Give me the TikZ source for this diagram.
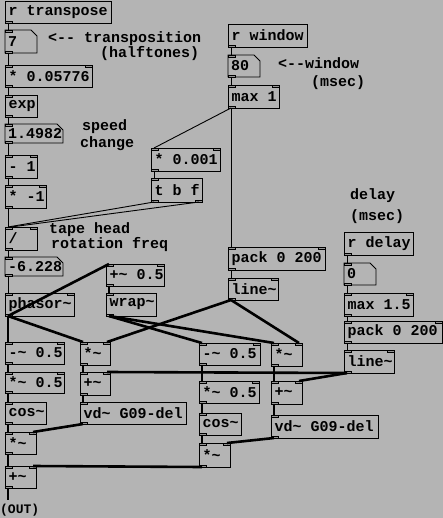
\documentclass[tikz,border=0pt]{standalone}
\usepackage{fontspec}
\setmainfont{Liberation Mono}
\definecolor{bg}{RGB}{180,180,180}
\definecolor{mark}{RGB}{150,150,150}
\newcommand{\pdfnt}{\bfseries\fontsize{15}{15}\selectfont}
\tikzset{
  box/.style={draw=black, line width=0.8pt, anchor=north west, inner sep=0pt, outer sep=0pt},
  nbox/.style={draw=none, anchor=north west, inner sep=0pt, outer sep=0pt},
  lbl/.style={font=\pdfnt, inner sep=0pt, anchor=west},
  cmt/.style={font=\pdfnt, inner sep=0pt, anchor=west},
  ctl/.style={line width=0.9pt, black},
  sig/.style={line width=2.6pt, black},
  iomark/.style={draw=black, line width=0.5pt, fill=mark}
}
% name x y w h text
\newcommand{\pdobj}[6]{%
  \node[box, minimum width=#4pt, minimum height=#5pt] (#1) at (#2,#3) {};
  \node[lbl] at ([xshift=3.5pt]#1.west) {#6};
  \draw[iomark] (#1.north west) rectangle ++(7,2);
  \draw[iomark] (#1.south west) rectangle ++(7,-2);
}
\newcommand{\pdrecv}[6]{%
  \node[box, minimum width=#4pt, minimum height=#5pt] (#1) at (#2,#3) {};
  \node[lbl] at ([xshift=3.5pt]#1.west) {#6};
  \draw[iomark] (#1.south west) rectangle ++(7,-2);
}
\newcommand{\pdnum}[6]{%
  \node[nbox, minimum width=#4pt, minimum height=#5pt] (#1) at (#2,#3) {};
  \draw[line width=0.8pt] (#1.north west) -- ([xshift=-6pt]#1.north east) -- ([yshift=-6pt]#1.north east) -- (#1.south east) -- (#1.south west) -- cycle;
  \node[lbl] at ([xshift=3pt]#1.west) {#6};
  \draw[iomark] (#1.north west) rectangle ++(7,2);
  \draw[iomark] (#1.south west) rectangle ++(7,-2);
}
\newcommand{\rin}[1]{\draw[iomark] (#1.north east) rectangle ++(-7,2);}
\newcommand{\rout}[1]{\draw[iomark] (#1.south east) rectangle ++(-7,-2);}
% connections: style, from, to
\newcommand{\conL}[3]{\draw[#1] ([xshift=3pt]#2.south west) -- ([xshift=3pt]#3.north west);}
\newcommand{\conR}[3]{\draw[#1] ([xshift=3pt]#2.south west) -- ([xshift=-3pt]#3.north east);}
\begin{document}
\begin{tikzpicture}[x=1pt,y=-1pt]
\fill[bg] (0,0) rectangle (443,518);
\useasboundingbox (0,0) rectangle (443,518);

% ---------- left control column ----------
\pdrecv{rtr}{5}{1}{106}{22}{r transpose}
\pdnum{nsev}{5}{30}{32}{23}{7}
\pdobj{mulA1}{5}{65}{87}{22}{* 0.05776}\rin{mulA1}
\pdobj{expo}{5}{95}{32}{22}{exp}
\pdnum{nspd}{5}{124}{58}{19}{1.4982}
\pdobj{subone}{5}{155}{32}{23}{- 1}\rin{subone}
\pdobj{mulneg}{5}{185}{41}{23}{* -1}\rin{mulneg}
\pdobj{divi}{5}{227}{32}{23}{/}\rin{divi}
\pdnum{nfreq}{5}{257}{58}{19}{-6.228}
\pdobj{phas}{5}{293}{69}{23}{phasor\char`~}\rin{phas}

% ---------- window ----------
\pdrecv{rwin}{228}{24}{79}{23}{r window}
\pdnum{neighty}{228}{55}{32}{22}{80}
\pdobj{maxone}{228}{85}{51}{23}{max 1}\rin{maxone}
\pdobj{mulms}{151}{148}{69}{23}{* 0.001}\rin{mulms}
\pdobj{tbf}{151}{178}{51}{24}{t b f}\rout{tbf}
\pdobj{packA}{228}{247}{97}{23}{pack 0 200}\rin{packA}
\pdobj{lineA}{228}{278}{50}{22}{line\char`~}\rin{lineA}

% ---------- delay ----------
\pdrecv{rdel}{344}{232}{69}{23}{r delay}
\pdnum{nzero}{344}{263}{32}{22}{0}
\pdobj{maxdel}{344}{293}{69}{23}{max 1.5}\rin{maxdel}
\pdobj{packB}{344}{321}{98}{22}{pack 0 200}\rin{packB}
\pdobj{lineB}{344}{350}{50}{23}{line\char`~}\rin{lineB}

% ---------- second phase ----------
\pdobj{addhalf}{106}{264}{58}{22}{+\char`~{} 0.5}\rin{addhalf}
\pdobj{wrp}{106}{293}{50}{23}{wrap\char`~}

% ---------- left signal chain ----------
\pdobj{subA}{5}{342}{59}{22}{-\char`~{} 0.5}\rin{subA}
\pdobj{mulA}{80}{342}{30}{23}{*\char`~}\rin{mulA}
\pdobj{halfA}{5}{372}{59}{21}{*\char`~{} 0.5}\rin{halfA}
\pdobj{addA}{80}{372}{30}{23}{+\char`~}\rin{addA}
\pdobj{cosA}{5}{402}{41}{22}{cos\char`~}
\pdobj{vdA}{80}{402}{106}{22}{vd\char`~{} G09-del}
\pdobj{winA}{5}{432}{31}{22}{*\char`~}\rin{winA}
\pdobj{sumout}{5}{466}{31}{22}{+\char`~}\rin{sumout}

% ---------- right signal chain ----------
\pdobj{subB}{199}{343}{61}{22}{-\char`~{} 0.5}\rin{subB}
\pdobj{mulB}{271}{343}{31}{23}{*\char`~}\rin{mulB}
\pdobj{halfB}{199}{381}{60}{22}{*\char`~{} 0.5}\rin{halfB}
\pdobj{addB}{271}{381}{31}{23}{+\char`~}\rin{addB}
\pdobj{cosB}{199}{413}{42}{22}{cos\char`~}
\pdobj{vdB}{271}{415}{107}{23}{vd\char`~{} G09-del}
\pdobj{winB}{199}{443}{31}{24}{*\char`~}\rin{winB}

\coordinate (outend) at (8,500);

% ---------- comments ----------
\node[cmt] at (48,39) {<-{}- transposition};
\node[cmt] at (100,54) {(halftones)};
\node[cmt] at (82,127) {speed};
\node[cmt] at (80,144) {change};
\node[cmt] at (49,230) {tape head};
\node[cmt] at (51,245) {rotation freq};
\node[cmt] at (278,63) {<-{}-window};
\node[cmt] at (311,83) {(msec)};
\node[cmt] at (350,196) {delay};
\node[cmt] at (350,217) {(msec)};
\node[cmt, font=\bfseries\fontsize{13}{13}\selectfont] at (0,510) {(OUT)};

% ---------- control connections ----------
\conL{ctl}{rtr}{nsev}
\conL{ctl}{nsev}{mulA1}
\conL{ctl}{mulA1}{expo}
\conL{ctl}{expo}{nspd}
\conL{ctl}{nspd}{subone}
\conL{ctl}{subone}{mulneg}
\conL{ctl}{mulneg}{divi}
\conL{ctl}{divi}{nfreq}
\conL{ctl}{nfreq}{phas}
\conL{ctl}{rwin}{neighty}
\conL{ctl}{neighty}{maxone}
\conL{ctl}{maxone}{packA}
\conL{ctl}{maxone}{mulms}
\conL{ctl}{mulms}{tbf}
\draw[ctl] ([xshift=3pt]tbf.south west) -- ([xshift=3pt]divi.north west);
\draw[ctl] ([xshift=-3pt]tbf.south east) -- ([xshift=6pt]divi.north west);
\conL{ctl}{packA}{lineA}
\conL{ctl}{rdel}{nzero}
\conL{ctl}{nzero}{maxdel}
\conL{ctl}{maxdel}{packB}
\conL{ctl}{packB}{lineB}

% ---------- signal connections ----------
\conL{sig}{phas}{subA}
\conL{sig}{phas}{mulA}
\conL{sig}{phas}{addhalf}
\conL{sig}{addhalf}{wrp}
\conL{sig}{wrp}{subB}
\conL{sig}{wrp}{mulB}
\conR{sig}{lineA}{mulA}
\conR{sig}{lineA}{mulB}
\conL{sig}{subA}{halfA}
\conL{sig}{halfA}{cosA}
\conL{sig}{cosA}{winA}
\conL{sig}{winA}{sumout}
\conL{sig}{mulA}{addA}
\conR{sig}{lineB}{addA}
\conL{sig}{addA}{vdA}
\conR{sig}{vdA}{winA}
\conL{sig}{subB}{halfB}
\conL{sig}{halfB}{cosB}
\conL{sig}{cosB}{winB}
\conR{sig}{winB}{sumout}
\conL{sig}{mulB}{addB}
\conR{sig}{lineB}{addB}
\conL{sig}{addB}{vdB}
\conR{sig}{vdB}{winB}
\draw[line width=1.4pt] ([xshift=3pt]sumout.south west) -- (outend);
\end{tikzpicture}
\end{document}
